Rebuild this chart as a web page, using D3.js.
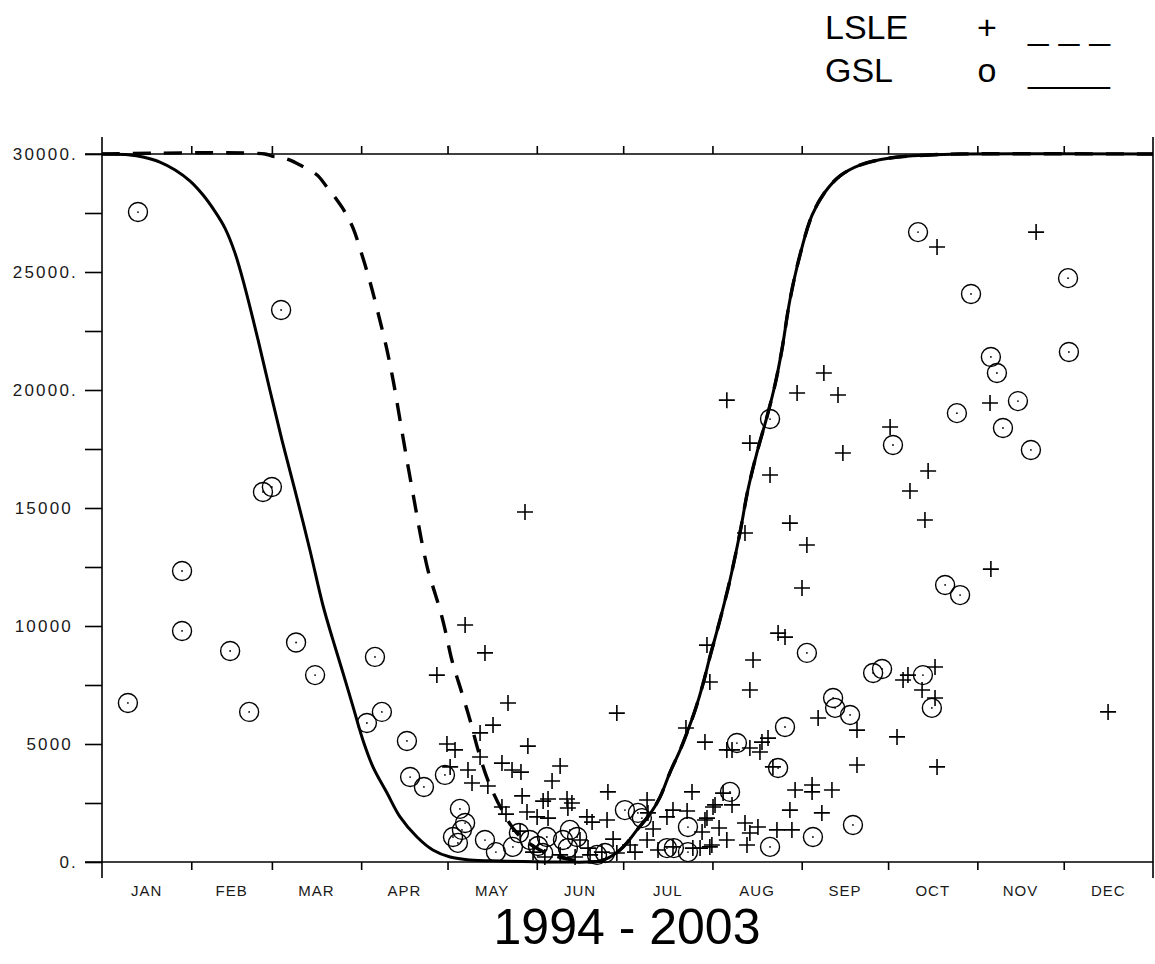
<!DOCTYPE html>
<html>
<head>
<meta charset="utf-8">
<script src="https://cdn.jsdelivr.net/npm/d3@7"></script>
<style>
  html, body { margin: 0; padding: 0; background: #fff; }
  svg { display: block; }
</style>
</head>
<body>
<svg id="chart" width="1155" height="964"></svg>
<script>
// ---- data ---------------------------------------------------------------
const months = ["JAN","FEB","MAR","APR","MAY","JUN","JUL","AUG","SEP","OCT","NOV","DEC"];
const monthStartDays = [0, 31, 59, 90, 120, 151, 181, 212, 243, 273, 304, 334, 365];

const yTickValues = [0, 2500, 5000, 7500, 10000, 12500, 15000, 17500, 20000, 22500, 25000, 27500, 30000];
const yLabelValues = [0, 5000, 10000, 15000, 20000, 25000, 30000];
const yLabelTexts  = ["0.", "5000", "10000", "15000", "20000.", "25000.", "30000."];

const title = "1994 - 2003";
const seriesNames = ["LSLE", "GSL"];
const seriesSymbols = ["+", "o"];
const seriesLineKeys = ["_ _ _", "_____"];

// GSL fitted curve: [day of year, value]
const gslCurve = [
  [0,30000],[9.7,29960],[14.2,29870],[20.1,29660],[25.4,29320],[30.6,28850],[35.1,28260],
  [39.2,27570],[42.7,26860],[46.2,25800],[49.7,24320],[54.2,22120],[58.3,20000],[62.5,17880],
  [67.0,15760],[72.2,13220],[76.7,10890],[80.2,9410],[83.7,8010],[87.2,6570],[90.6,5170],
  [94.1,4030],[99.0,2920],[103.5,1910],[109.4,1060],[114.9,510],[120.9,210],[127.8,85],
  [138.2,40],[159.1,0],[172.9,40],[176.4,210],[179.9,510],[182.3,810],[185.8,1360],
  [190.3,2030],[193.8,2750],[197.3,3810],[200.8,4750],[203.5,5590],[206.0,6440],[208.8,7580],
  [211.2,8730],[214.6,10250],[218.1,11950],[221.6,13980],[224.3,15760],[227.5,17370],
  [230.9,18850],[233.7,20210],[236.1,21690],[238.9,23810],[242.4,25720],[246.6,27410],
  [251.1,28390],[256.3,29070],[263.2,29530],[273.7,29830],[287.5,29960],[298.0,30000],[365,30000]
];

// LSLE fitted curve: [day of year, value]
const lsleCurve = [
  [0,30000],[56.6,30000],[59.0,29910],[61.8,29870],[65.3,29740],[68.8,29530],[74.7,29110],
  [78.1,28600],[81.6,28050],[84.4,27540],[87.2,26860],[90.3,25720],[93.1,24570],[95.8,23300],
  [98.6,21900],[101.1,20420],[103.5,18730],[105.9,17030],[108.4,15340],[110.8,13730],
  [113.2,12370],[115.3,11520],[117.4,10680],[119.5,9660],[121.5,8560],[125.0,7160],
  [127.8,6020],[130.6,4750],[134.0,3470],[138.9,2200],[144.1,1230],[152.1,510],[161.5,130],
  [169.5,0],[172.9,40],[176.4,210],[179.9,510],[182.3,810],[185.8,1360],[190.3,2030],
  [193.8,2750],[197.3,3810],[200.8,4750],[203.5,5590],[206.0,6440],[208.8,7580],[211.2,8730],
  [214.6,10250],[218.1,11950],[221.6,13980],[224.3,15760],[227.5,17370],[230.9,18850],
  [233.7,20210],[236.1,21690],[238.9,23810],[242.4,25720],[246.6,27410],[251.1,28390],
  [256.3,29070],[263.2,29530],[273.7,29830],[287.5,29960],[298.0,30000],[365,30000]
];

// GSL observations (circles): [day of year, value]
const gslObs = [
  [9.0,6740],[12.5,27540],[27.8,12330],[27.8,9790],[44.5,8940],[51.1,6360],[55.9,15680],
  [59.0,15890],[62.2,23390],[67.4,9300],[74.0,7920],[94.8,8690],[92.0,5890],[97.2,6360],
  [105.9,5130],[107.0,3600],[111.8,3180],[119.1,3690],[124.3,2250],[126.1,1650],[125.0,1360],
  [121.9,1060],[123.6,810],[133.0,930],[136.8,420],[142.7,640],[144.8,1230],[148.6,930],
  [151.4,680],[153.2,380],[154.5,1060],[160.1,930],[162.5,1360],[165.0,1060],[161.8,590],
  [171.9,300],[174.7,380],[181.6,2200],[186.1,2080],[187.5,1860],[196.2,590],[198.6,590],
  [203.5,1480],[203.5,420],[218.1,2970],[220.5,5040],[232.0,18770],[232.0,640],[234.8,3980],
  [237.2,5720],[244.8,8860],[246.9,1060],[253.9,6950],[254.6,6530],[259.8,6230],[260.8,1570],
  [267.8,8010],[270.9,8180],[274.7,17670],[283.4,26690],[285.1,7920],[288.2,6530],
  [292.8,11740],[298.0,11310],[296.9,19020],[301.8,24070],[308.7,21400],[310.8,20720],
  [318.1,19530],[312.9,18390],[322.6,17460],[335.5,24740],[335.8,21610]
];

// LSLE observations (crosses): [day of year, value]
const lsleObs = [
  [126.1,10040],[133.0,8860],[116.3,7920],[146.9,14830],[141.0,6740],[178.8,6310],[135.8,5800],
  [131.3,5470],[147.9,4910],[119.8,5000],[122.6,4750],[131.3,4450],[138.9,4190],[142.4,3900],
  [145.5,3810],[159.1,4070],[120.9,4030],[127.1,3900],[156.3,3430],[128.5,3350],[134.0,3220],
  [145.9,2800],[175.7,2970],[153.2,2580],[154.9,2670],[161.5,2670],[161.8,2290],[138.9,2330],
  [140.3,2030],[147.6,2120],[151.1,1910],[154.9,1860],[168.4,1910],[170.2,1690],[175.4,1780],
  [189.3,2630],[189.6,2080],[196.2,1910],[198.3,2200],[203.2,2160],[204.9,2970],[202.8,5680],
  [191.4,1400],[177.5,970],[145.2,1310],[163.2,2500],[166.0,930],[168.8,590],[173.6,420],
  [178.8,380],[185.1,420],[183.4,720],[189.3,930],[193.1,510],[198.3,640],[205.2,590],
  [211.1,640],[212.9,2420],[210.1,1860],[214.3,1440],[209.4,5080],[149.7,420],[153.8,210],
  [159.1,300],[164.3,210],[169.5,300],
  [217.0,19570],[241.4,19870],[255.6,19790],[250.7,20720],[273.7,18430],[225.0,17750],
  [257.3,17330],[286.9,16570],[232.0,16400],[280.6,15720],[285.8,14490],[238.9,14360],
  [244.8,13430],[243.1,11610],[223.3,13940],[234.8,9700],[237.2,9530],[210.1,9190],
  [226.1,8560],[211.1,7630],[225.0,7290],[289.3,8260],[279.9,7920],[278.2,7710],[284.8,7290],
  [289.3,6950],[248.7,6100],[262.2,5590],[276.1,5300],[231.3,5250],[229.2,5080],[228.5,4660],
  [218.8,4750],[217.0,4750],[225.0,4830],[262.2,4110],[290.0,4030],[233.0,4030],[215.7,2920],
  [240.7,3050],[246.6,3260],[246.6,2970],[253.5,3050],[212.2,2330],[218.8,2420],[238.9,2200],
  [250.0,2080],[209.4,1780],[223.3,1650],[227.8,1480],[234.4,1360],[239.6,1360],[208.4,1270],
  [217.0,930],[211.8,720],[224.0,720],[225.0,1230],[207.7,590],
  [324.4,26690],[290.0,26060],[308.4,19450],[308.7,12410],[349.4,6360]
];

// ---- layout -------------------------------------------------------------
const svg = d3.select("#chart");
const plot = { left: 102, right: 1153, top: 154, bottom: 862 };

const x = d3.scaleLinear().domain([0, 365]).range([plot.left, plot.right]);
const y = d3.scaleLinear().domain([0, 30000]).range([plot.bottom, plot.top]);

const axisColor = "#000";
const labelFont = "'Liberation Sans', Arial, sans-serif";

// frame: bottom/top lines and left/right lines extending past the box
const frame = svg.append("g").attr("stroke", axisColor).attr("stroke-width", 1.6).attr("fill", "none");
frame.append("line").attr("x1", plot.left - 17).attr("x2", plot.right).attr("y1", y(0)).attr("y2", y(0));
frame.append("line").attr("x1", plot.left - 17).attr("x2", plot.right).attr("y1", y(30000)).attr("y2", y(30000));
frame.append("line").attr("x1", plot.left).attr("x2", plot.left).attr("y1", plot.top - 17).attr("y2", plot.bottom + 16);
frame.append("line").attr("x1", plot.right).attr("x2", plot.right).attr("y1", plot.top - 17).attr("y2", plot.bottom + 16);

// left axis: ticks every 2500, labels every 5000
const yAxis = d3.axisLeft(y)
  .tickValues(yTickValues)
  .tickSize(17)
  .tickFormat(v => {
    const i = yLabelValues.indexOf(v);
    return i >= 0 ? yLabelTexts[i] : "";
  });
const gy = svg.append("g").attr("transform", `translate(${plot.left},0)`).call(yAxis);
gy.select(".domain").remove();
gy.selectAll(".tick line").attr("stroke", axisColor).attr("stroke-width", 1.6);
gy.selectAll(".tick text")
  .attr("font-family", labelFont)
  .attr("font-size", 17)
  .attr("letter-spacing", "2.2px")
  .attr("fill", "#1a1a1a")
  .attr("x", function() { const t = d3.select(this).text(); return t.endsWith(".") ? -24 : -29; });

// bottom axis: month boundary ticks, month names centred in each month
const monthTicks = monthStartDays.slice(1, -1);
const xAxisBottom = d3.axisBottom(x).tickValues(monthTicks).tickSize(8).tickFormat("");
const gxb = svg.append("g").attr("transform", `translate(0,${plot.bottom})`).call(xAxisBottom);
gxb.select(".domain").remove();
gxb.selectAll(".tick line").attr("stroke", axisColor).attr("stroke-width", 1.6);

const xAxisTop = d3.axisTop(x).tickValues(monthTicks).tickSize(8).tickFormat("");
const gxt = svg.append("g").attr("transform", `translate(0,${plot.top})`).call(xAxisTop);
gxt.select(".domain").remove();
gxt.selectAll(".tick line").attr("stroke", axisColor).attr("stroke-width", 1.6);

svg.append("g").selectAll("text").data(months).join("text")
  .attr("x", (d, i) => x((monthStartDays[i] + monthStartDays[i + 1]) / 2))
  .attr("y", 896)
  .attr("text-anchor", "middle")
  .attr("font-family", labelFont)
  .attr("font-size", 15)
  .attr("letter-spacing", "1px")
  .attr("fill", "#1a1a1a")
  .text(d => d);

// ---- curves -------------------------------------------------------------
const line = d3.line().x(d => x(d[0])).y(d => y(d[1])).curve(d3.curveCatmullRom.alpha(0.5));

svg.append("path").datum(lsleCurve)
  .attr("d", line).attr("fill", "none").attr("stroke", "#000")
  .attr("stroke-width", 3.4).attr("stroke-dasharray", "18,13");

svg.append("path").datum(gslCurve)
  .attr("d", line).attr("fill", "none").attr("stroke", "#000")
  .attr("stroke-width", 3);

// ---- observations -------------------------------------------------------
const circles = svg.append("g");
circles.selectAll("circle.obs").data(gslObs).join("circle")
  .attr("class", "obs")
  .attr("cx", d => x(d[0])).attr("cy", d => y(d[1])).attr("r", 9.5)
  .attr("fill", "none").attr("stroke", "#000").attr("stroke-width", 1.4);
circles.selectAll("circle.dot").data(gslObs).join("circle")
  .attr("class", "dot")
  .attr("cx", d => x(d[0])).attr("cy", d => y(d[1])).attr("r", 0.9)
  .attr("fill", "#000");

svg.append("g").selectAll("path").data(lsleObs).join("path")
  .attr("transform", d => `translate(${x(d[0])},${y(d[1])})`)
  .attr("d", "M-8,0H8M0,-8V8")
  .attr("stroke", "#000").attr("stroke-width", 1.6).attr("fill", "none");

// ---- legend -------------------------------------------------------------
const legend = svg.append("g")
  .attr("font-family", labelFont).attr("font-size", 34).attr("fill", "#000");
const legendRows = [39, 82];
seriesNames.forEach((name, i) => {
  legend.append("text").attr("x", 825).attr("y", legendRows[i]).text(name);
  legend.append("text").attr("x", 987).attr("y", legendRows[i]).attr("text-anchor", "middle").text(seriesSymbols[i]);
  legend.append("text").attr("x", 1028).attr("y", legendRows[i])
    .attr("textLength", 82).attr("lengthAdjust", "spacingAndGlyphs").text(seriesLineKeys[i]);
});

// ---- title --------------------------------------------------------------
svg.append("text")
  .attr("x", 627).attr("y", 944)
  .attr("text-anchor", "middle")
  .attr("font-family", labelFont)
  .attr("font-size", 50)
  .attr("fill", "#000")
  .text(title);
</script>
</body>
</html>
